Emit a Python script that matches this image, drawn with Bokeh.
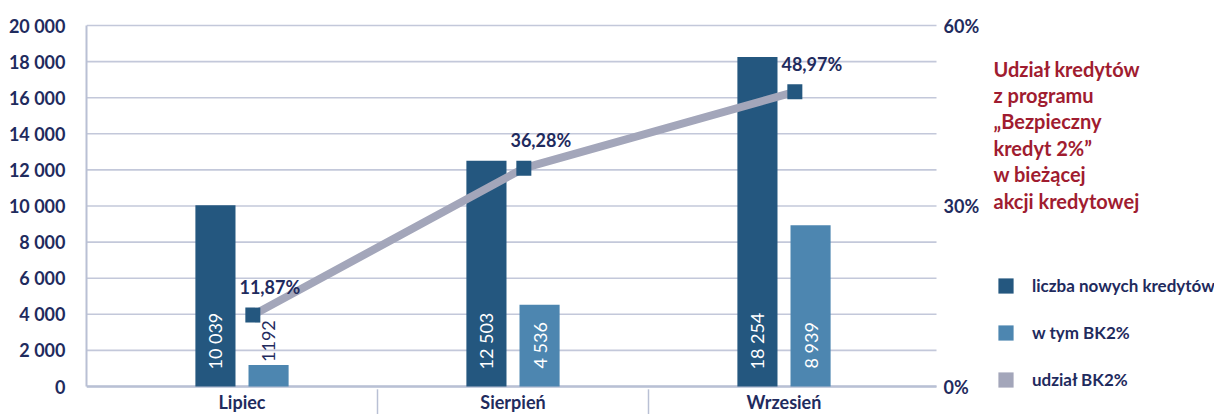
from math import pi
from bokeh.plotting import figure
from bokeh.models import (Range1d, FixedTicker, ColumnDataSource, Label,
                          Legend, LegendItem)
from bokeh.core.properties import value
from bokeh.transform import dodge
from bokeh.embed import file_html
from bokeh.resources import INLINE

# ---- data ----
months = ["Lipiec", "Sierpień", "Wrzesień"]
new_loans = [10039, 12503, 18254]
bk2_loans = [1192, 4536, 8939]
bk2_share = [11.87, 36.28, 48.97]
y_ticks = [0, 2000, 4000, 6000, 8000, 10000, 12000, 14000, 16000, 18000, 20000]
pct_ticks = [0, 30, 60]
legend_labels = ["liczba nowych kredytów", "w tym BK2%", "udział BK2%"]
title_lines = ["Udział kredytów", "z programu", "„Bezpieczny", "kredyt 2%”",
               "w bieżącej", "akcji kredytowej"]

# ---- style ----
NAVY = "#1f2b5e"
RED = "#a01c30"
DARK = "#24577f"
LIGHT = "#4d86b0"
GREY = "#a3a6ba"
GRID = "#c3c8da"
AXIS = "#b9c0d4"
FONT = "Lato"

# ---- layout (pixels) ----
W, H = 1214, 414
LEFT = 86
CAT_PX = 271          # width of one category in px
PAD_L = 20            # px from frame left to first category
PLOT_PX = 850         # width of the gridded plot area
PLOT_TOP = 25         # px from top to the 20 000 line
PLOT_BOT = 386        # px from top to the 0 line
Y_MAX, PCT_MAX = 20000, 60

frame_w = W - LEFT
plot_h = PLOT_BOT - PLOT_TOP
X0 = -PAD_L / CAT_PX
X1 = X0 + frame_w / CAT_PX
PLOT_END = X0 + PLOT_PX / CAT_PX
Y0 = -Y_MAX * (H - PLOT_BOT) / plot_h
Y1 = Y_MAX * (1 + PLOT_TOP / plot_h)
P0 = -PCT_MAX * (H - PLOT_BOT) / plot_h
P1 = PCT_MAX * (1 + PLOT_TOP / plot_h)


def fmt(n):
    s = f"{n:,}".replace(",", " ")
    return s if n >= 2000 else str(n)


xc = [i + 0.5 for i in range(len(months))]
bk2_ly = [v if v < 2500 else 0 for v in bk2_loans]
bk2_col = [NAVY if v < 2500 else "white" for v in bk2_loans]
bk2_off = [-3 if v < 2500 else -18 for v in bk2_loans]

src = ColumnDataSource(dict(
    x=xc, month=months, new=new_loans, bk2=bk2_loans, share=bk2_share,
    new_lbl=[fmt(v) for v in new_loans],
    bk2_lbl=[fmt(v) for v in bk2_loans],
    share_lbl=[f"{v:.2f}%".replace(".", ",") for v in bk2_share],
    bk2_ly=bk2_ly, bk2_col=bk2_col, bk2_off=bk2_off,
))

p = figure(width=W, height=H,
           x_range=Range1d(X0, X1), y_range=Range1d(Y0, Y1),
           output_backend="svg", toolbar_location=None,
           x_axis_location=None,
           min_border_left=LEFT, min_border_right=0,
           min_border_top=0, min_border_bottom=0)
p.extra_y_ranges = {"pct": Range1d(P0, P1)}
p.outline_line_color = None
p.background_fill_color = "white"
p.xgrid.visible = False
p.ygrid.visible = False

# grid lines (only over the plot area)
p.segment(x0=[X0] * len(y_ticks), x1=[PLOT_END] * len(y_ticks), y0=y_ticks, y1=y_ticks,
          line_color=GRID, line_width=1.6)
# baseline and category separators
p.segment(x0=[X0], x1=[PLOT_END], y0=[0], y1=[0], line_color=AXIS, line_width=2.5)
p.segment(x0=[1, 2], x1=[1, 2], y0=[Y0 * 0.1] * 2, y1=[Y0] * 2,
          line_color=AXIS, line_width=1.5)

# left axis
ya = p.yaxis[0]
ya.ticker = FixedTicker(ticks=y_ticks)
ya.bounds = (0, Y_MAX)
ya.major_label_overrides = {t: fmt(t) for t in y_ticks}
ya.major_label_text_font = FONT
ya.major_label_text_font_size = "18px"
ya.major_label_text_font_style = "bold"
ya.major_label_text_color = NAVY
ya.axis_line_color = AXIS
ya.axis_line_width = 2
ya.major_tick_line_color = None
ya.minor_tick_line_color = None
ya.major_label_standoff = 15

# right axis labels
p.text(x=[PLOT_END] * len(pct_ticks), y=pct_ticks, y_range_name="pct",
       text=[f"{t}%" for t in pct_ticks], x_offset=7,
       text_align="left", text_baseline="middle", text_color=NAVY,
       text_font=value(FONT), text_font_size="18px", text_font_style="bold")

# category labels
p.text(x="x", y=0, text="month", source=src, y_offset=15,
       text_align="center", text_baseline="middle", text_color=NAVY,
       text_font=value(FONT), text_font_size="18px", text_font_style="bold")

# bars
r_new = p.vbar(x=dodge("x", -0.098), top="new", width=0.148, source=src,
               fill_color=DARK, line_color=None)
r_bk2 = p.vbar(x=dodge("x", 0.098), top="bk2", width=0.148, source=src,
               fill_color=LIGHT, line_color=None)
# legend-only swatch for the share series (not drawn in the plot)
r_share_key = p.vbar(x="x", top="share", width=0.1, source=src, y_range_name="pct",
                     fill_color=GREY, line_color=None, visible=False)

# bar labels
p.text(x=dodge("x", -0.098), y=0, text="new_lbl", source=src, angle=pi / 2,
       text_align="left", text_baseline="middle", y_offset=-17,
       text_color="white", text_font=value(FONT), text_font_size="18px")
p.text(x=dodge("x", 0.098), y="bk2_ly", text="bk2_lbl", source=src, angle=pi / 2,
       text_align="left", text_baseline="middle", y_offset="bk2_off",
       text_color="bk2_col", text_font=value(FONT), text_font_size="18px")

# share line
p.line(x=dodge("x", 0.04), y="share", source=src, y_range_name="pct",
       line_width=8, line_color=GREY)
p.scatter(x=dodge("x", 0.04), y="share", source=src, y_range_name="pct",
          marker="square", size=15, fill_color=DARK, line_color=None)
p.text(x=dodge("x", 0.04), y="share", text="share_lbl", source=src, y_range_name="pct",
       x_offset=17, y_offset=-28, text_align="center", text_baseline="middle",
       text_color=NAVY, text_font=value(FONT), text_font_size="18px",
       text_font_style="bold")

# legend
legend = Legend(items=[LegendItem(label=legend_labels[0], renderers=[r_new]),
                       LegendItem(label=legend_labels[1], renderers=[r_bk2]),
                       LegendItem(label=legend_labels[2], renderers=[r_share_key])],
                location=(910, 24), orientation="vertical",
                glyph_width=19, glyph_height=19, label_height=19,
                label_standoff=17, spacing=26, padding=0, margin=0,
                border_line_color=None, background_fill_alpha=0,
                label_text_font=FONT, label_text_font_size="17px",
                label_text_font_style="bold", label_text_color=NAVY)
p.add_layout(legend, "center")

# title block
for i, line in enumerate(title_lines):
    p.add_layout(Label(x=907, y=346 - i * 26.4, x_units="screen", y_units="screen",
                       text=line, text_font=FONT, text_font_size="20px",
                       text_font_style="bold", text_color=RED,
                       text_baseline="middle", text_align="left"))

open("out.html", "w").write(file_html(p, INLINE))
